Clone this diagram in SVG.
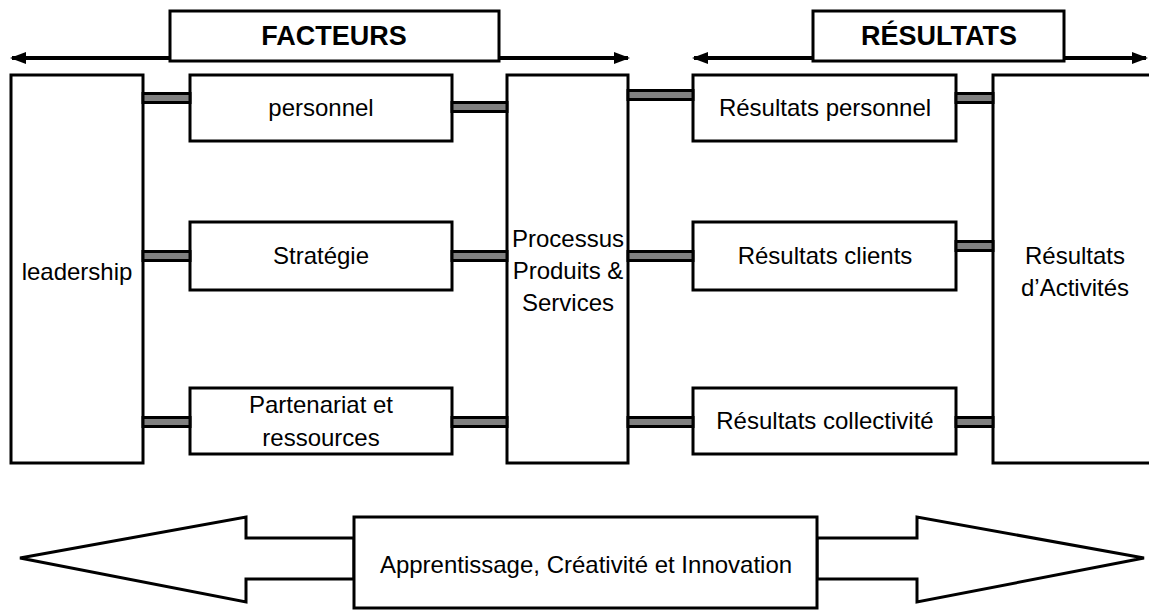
<svg xmlns="http://www.w3.org/2000/svg" width="1149" height="610" viewBox="0 0 1149 610">
  <style>
    .box { fill: #ffffff; stroke: #000000; stroke-width: 3; }
    .lbl { font-family: "Liberation Sans", Arial, sans-serif; font-size: 24px; fill: #000000; text-anchor: middle; }
    .head { font-family: "Liberation Sans", Arial, sans-serif; font-size: 27px; font-weight: bold; fill: #000000; text-anchor: middle; }
    .bar { fill: #808080; stroke: #000000; stroke-width: 3; }
    .span { stroke: #000000; stroke-width: 4; fill: none; marker-start: url(#tipL); marker-end: url(#tipR); }
    .big { fill: #ffffff; stroke: #000000; stroke-width: 3; stroke-linejoin: miter; }
  </style>
  <defs>
    <marker id="tipR" markerWidth="4" markerHeight="3" refX="3.5" refY="1.5" orient="auto" markerUnits="strokeWidth">
      <path d="M0,0 L4,1.5 L0,3 Z" fill="#000000"/>
    </marker>
    <marker id="tipL" markerWidth="4" markerHeight="3" refX="0.5" refY="1.5" orient="auto" markerUnits="strokeWidth">
      <path d="M4,0 L0,1.5 L4,3 Z" fill="#000000"/>
    </marker>
  </defs>

  <!-- section headers with span arrows -->
  <g id="facteurs">
    <line class="span" x1="12" y1="58" x2="628" y2="58"/>
    <rect class="box" x="170" y="11" width="329" height="50"/>
    <text class="head" x="334" y="45">FACTEURS</text>
  </g>
  <g id="resultats">
    <line class="span" x1="694" y1="58" x2="1146" y2="58"/>
    <rect class="box" x="813" y="11" width="251" height="50"/>
    <text class="head" x="939" y="45">RÉSULTATS</text>
  </g>

  <!-- enablers -->
  <g id="leadership">
    <rect class="box" x="11" y="75" width="132" height="388"/>
    <text class="lbl" x="77" y="280">leadership</text>
  </g>
  <g id="personnel">
    <rect class="box" x="190" y="75" width="262" height="66"/>
    <text class="lbl" x="321" y="116">personnel</text>
  </g>
  <g id="strategie">
    <rect class="box" x="190" y="222" width="262" height="68"/>
    <text class="lbl" x="321" y="264">Stratégie</text>
  </g>
  <g id="partenariat">
    <rect class="box" x="190" y="388" width="262" height="66"/>
    <text class="lbl" x="321" y="413">Partenariat et</text>
    <text class="lbl" x="321" y="446">ressources</text>
  </g>
  <g id="processus">
    <rect class="box" x="507" y="75" width="121" height="388"/>
    <text class="lbl" x="568" y="247">Processus</text>
    <text class="lbl" x="568" y="279">Produits &amp;</text>
    <text class="lbl" x="568" y="311">Services</text>
  </g>

  <!-- results -->
  <g id="res-personnel">
    <rect class="box" x="693" y="75" width="263" height="66"/>
    <text class="lbl" x="825" y="116">Résultats personnel</text>
  </g>
  <g id="res-clients">
    <rect class="box" x="693" y="222" width="263" height="68"/>
    <text class="lbl" x="825" y="264">Résultats clients</text>
  </g>
  <g id="res-collectivite">
    <rect class="box" x="693" y="388" width="263" height="66"/>
    <text class="lbl" x="825" y="429">Résultats collectivité</text>
  </g>
  <g id="res-activites">
    <rect class="box" x="993" y="75" width="170" height="388"/>
    <text class="lbl" x="1075" y="264">Résultats</text>
    <text class="lbl" x="1075" y="296">d’Activités</text>
  </g>

  <!-- links between boxes -->
  <g id="connectors">
    <rect class="bar" x="143" y="93.5" width="47" height="9"/>
    <rect class="bar" x="452" y="102.5" width="55" height="9"/>
    <rect class="bar" x="628" y="90.5" width="65" height="9"/>
    <rect class="bar" x="956" y="93.5" width="37" height="9"/>

    <rect class="bar" x="143" y="251.5" width="47" height="9"/>
    <rect class="bar" x="452" y="251.5" width="55" height="9"/>
    <rect class="bar" x="628" y="251.5" width="65" height="9"/>
    <rect class="bar" x="956" y="241.5" width="37" height="9"/>

    <rect class="bar" x="143" y="417.5" width="47" height="9"/>
    <rect class="bar" x="452" y="417.5" width="55" height="9"/>
    <rect class="bar" x="628" y="417.5" width="65" height="9"/>
    <rect class="bar" x="956" y="417.5" width="37" height="9"/>
  </g>

  <!-- learning loop -->
  <g id="apprentissage">
    <polygon class="big" points="354,538 246,538 246,517 20,558 246,602 246,579 354,579"/>
    <polygon class="big" points="817,538 917,538 917,517 1144,558 917,602 917,579 817,579"/>
    <rect class="box" x="354" y="517" width="463" height="91"/>
    <text class="lbl" x="586" y="573">Apprentissage, Créativité et Innovation</text>
  </g>
</svg>
